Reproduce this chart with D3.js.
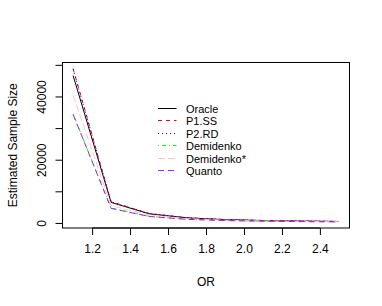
<!doctype html>
<html lang="en">
<head>
  <meta charset="utf-8">
  <title>Estimated Sample Size by OR</title>
</head>
<body style="overflow: hidden; margin: 0; background: #fff;">
  <script src="https://cdnjs.cloudflare.com/ajax/libs/d3/7.8.5/d3.min.js"></script>
  <script type="text/javascript">

    // odds ratios on the x axis
    let orValues = [1.1, 1.3, 1.5, 1.7, 1.9, 2.1, 2.3, 2.5];

    // estimated sample size per method
    let oracle     = [46600, 6500, 2900, 1600, 1050, 760, 590, 470];
    let p1ss       = [48800, 6700, 3000, 1650, 1080, 780, 600, 480];
    let p2rd       = [48600, 6650, 2980, 1640, 1075, 775, 600, 480];
    let demidenko  = [34400, 4700, 2100, 1150, 760, 550, 420, 340];
    let demidenkoS = [40300, 5500, 2450, 1350, 880, 640, 490, 400];
    let quanto     = [34300, 4600, 2050, 1130, 750, 540, 420, 340];

    let xTicks = [1.2, 1.4, 1.6, 1.8, 2.0, 2.2, 2.4];
    let yTicks = [0, 10000, 20000, 30000, 40000, 50000];
    let yLabels = [0, 20000, 40000];

    let series = [
      { name: "Oracle",     values: oracle,     color: "#000000", dash: null },
      { name: "P1.SS",      values: p1ss,       color: "#ff0000", dash: "4,4" },
      { name: "P2.RD",      values: p2rd,       color: "#0000ff", dash: "1,3" },
      { name: "Demidenko",  values: demidenko,  color: "#00ff00", dash: "1,3,4,3" },
      { name: "Demidenko*", values: demidenkoS, color: "#ffc0cb", dash: "7,3" },
      { name: "Quanto",     values: quanto,     color: "#a020f0", dash: "6,4" }
    ];

    let config = {
      width: 382,
      height: 306,
      left: 62.5,
      right: 349.5,
      top: 62.5,
      bottom: 228,
      font: "'Liberation Sans', Arial, sans-serif",
      fontSize: 12,
      legendSize: 11,
      legendStep: 12.4
    };

    let svg = d3.select("body").append("svg")
      .attr("width", config.width)
      .attr("height", config.height);

    // R style 4% padding on both axes
    let xExt = d3.extent(orValues);
    let xPad = (xExt[1] - xExt[0]) * 0.04;
    let allY = series.flatMap(s => s.values);
    let yExt = d3.extent(allY);
    let yPad = (yExt[1] - yExt[0]) * 0.04;

    let xScale = d3.scaleLinear()
      .domain([xExt[0] - xPad, xExt[1] + xPad])
      .range([config.left, config.right]);
    let yScale = d3.scaleLinear()
      .domain([yExt[0] - yPad, yExt[1] + yPad])
      .range([config.bottom, config.top]);

    let line = d3.line()
      .x((d, i) => xScale(orValues[i]))
      .y(d => yScale(d));

    series.forEach(s => {
      svg.append("path")
        .attr("d", line(s.values))
        .attr("fill", "none")
        .attr("stroke", s.color)
        .attr("stroke-width", 1)
        .attr("stroke-dasharray", s.dash);
    });

    // box
    svg.append("rect")
      .attr("x", config.left)
      .attr("y", config.top)
      .attr("width", config.right - config.left)
      .attr("height", config.bottom - config.top)
      .attr("fill", "none")
      .attr("stroke", "#000")
      .attr("stroke-width", 1);

    // x axis
    let xAxis = svg.append("g")
      .attr("transform", "translate(0," + config.bottom + ")")
      .call(d3.axisBottom(xScale).tickValues(xTicks).tickSize(7).tickSizeOuter(0)
        .tickFormat(d3.format(".1f")));
    xAxis.select(".domain")
      .attr("d", "M" + xScale(xTicks[0]) + ",0H" + xScale(xTicks[xTicks.length - 1]));
    xAxis.selectAll("text")
      .attr("y", 16)
      .attr("dy", null)
      .style("dominant-baseline", "hanging");

    // y axis
    let yAxis = svg.append("g")
      .attr("transform", "translate(" + config.left + ",0)")
      .call(d3.axisLeft(yScale).tickValues(yTicks).tickSize(7).tickSizeOuter(0)
        .tickFormat(d => yLabels.includes(d) ? d : ""));
    yAxis.select(".domain")
      .attr("d", "M0," + yScale(yTicks[0]) + "V" + yScale(yTicks[yTicks.length - 1]));
    yAxis.selectAll("text")
      .attr("x", null)
      .attr("dy", null)
      .attr("text-anchor", "middle")
      .attr("transform", "translate(-17,0) rotate(-90)");

    svg.selectAll(".tick text")
      .style("font-family", config.font)
      .style("font-size", config.fontSize + "px")
      .attr("fill", "#000");
    svg.selectAll(".tick line, .domain").attr("stroke", "#000");

    // axis titles
    svg.append("text")
      .attr("x", (config.left + config.right) / 2)
      .attr("y", 286)
      .attr("text-anchor", "middle")
      .style("font-family", config.font)
      .style("font-size", config.fontSize + "px")
      .text("OR");

    svg.append("text")
      .attr("transform", "translate(17," + ((config.top + config.bottom) / 2) + ") rotate(-90)")
      .attr("text-anchor", "middle")
      .style("font-family", config.font)
      .style("font-size", config.fontSize + "px")
      .text("Estimated Sample Size");

    // legend
    let legend = svg.append("g").attr("transform", "translate(158,108.5)");
    series.forEach((s, i) => {
      let row = legend.append("g").attr("transform", "translate(0," + Math.round(i * config.legendStep) + ")");
      row.append("line")
        .attr("x1", 0).attr("x2", 18.5)
        .attr("y1", 0).attr("y2", 0)
        .attr("stroke", s.color)
        .attr("stroke-width", 1)
        .attr("stroke-dasharray", s.dash);
      row.append("text")
        .attr("x", 28)
        .attr("y", 4)
        .style("font-family", config.font)
        .style("font-size", config.legendSize + "px")
        .text(s.name);
    });

  </script>
</body>
</html>
